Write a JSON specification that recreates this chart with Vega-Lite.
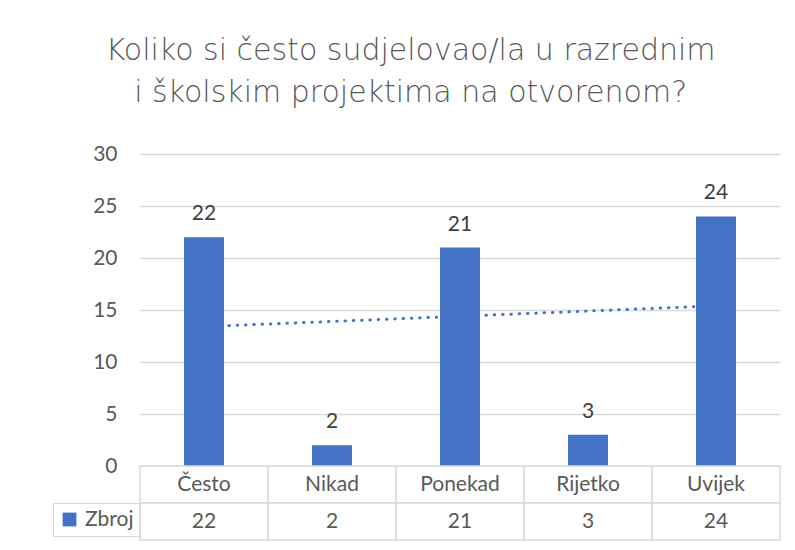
{
  "$schema": "https://vega.github.io/schema/vega-lite/v6.json",
  "background": "white",
  "padding": {"left": 52, "top": 36, "right": 12, "bottom": 5},
  "autosize": {"type": "pad"},
  "title": {
    "text": ["Koliko si često sudjelovao/la u razrednim", "i školskim projektima na otvorenom?"],
    "font": "DejaVu Sans",
    "fontSize": 30,
    "fontWeight": 200,
    "color": "#595959",
    "anchor": "middle",
    "dx": -6,
    "lineHeight": 42,
    "offset": 35
  },
  "datasets": {
    "odgovori": [
      {"kategorija": "Često", "zbroj": 22, "serija": "Zbroj"},
      {"kategorija": "Nikad", "zbroj": 2, "serija": "Zbroj"},
      {"kategorija": "Ponekad", "zbroj": 21, "serija": "Zbroj"},
      {"kategorija": "Rijetko", "zbroj": 3, "serija": "Zbroj"},
      {"kategorija": "Uvijek", "zbroj": 24, "serija": "Zbroj"}
    ],
    "trend": [
      {"kategorija": "Često", "trend": 13.4},
      {"kategorija": "Uvijek", "trend": 15.4}
    ]
  },
  "spacing": 0,
  "bounds": "flush",
  "resolve": {"legend": {"color": "independent"}, "scale": {"x": "independent"}},
  "vconcat": [
    {
      "width": 640,
      "height": 312,
      "layer": [
        {
          "data": {"name": "trend"},
          "mark": {"type": "line", "color": "#4472C4", "strokeWidth": 3, "strokeCap": "round", "strokeDash": [0.5, 7.8]},
          "encoding": {
            "x": {"field": "kategorija", "type": "nominal", "sort": null,
                  "scale": {"domain": ["Često", "Nikad", "Ponekad", "Rijetko", "Uvijek"], "paddingInner": 0.6875, "paddingOuter": 0.34375},
                  "axis": null},
            "y": {"field": "trend", "type": "quantitative"}
          }
        },
        {
          "data": {"name": "odgovori"},
          "mark": {"type": "bar", "color": "#4472C4"},
          "encoding": {
            "x": {"field": "kategorija", "type": "nominal", "sort": null, "axis": null},
            "y": {"field": "zbroj", "type": "quantitative",
                  "scale": {"domain": [0, 30]},
                  "axis": {"title": null, "values": [0, 5, 10, 15, 20, 25, 30], "grid": true, "gridColor": "#d9d9d9", "gridWidth": 1.5,
                           "domain": false, "ticks": false, "labelPadding": 23, "labelFont": "Lato", "labelFontSize": 21, "labelColor": "#595959"}}
          }
        },
        {
          "data": {"name": "odgovori"},
          "mark": {"type": "text", "font": "Lato", "fontSize": 21, "color": "#404040", "baseline": "alphabetic", "dy": -17},
          "encoding": {
            "x": {"field": "kategorija", "type": "nominal", "sort": null, "axis": null},
            "y": {"field": "zbroj", "type": "quantitative"},
            "text": {"field": "zbroj", "type": "quantitative"}
          }
        }
      ]
    },
    {
      "width": 640,
      "height": 37,
      "data": {"name": "odgovori"},
      "encoding": {
        "x": {"field": "kategorija", "type": "nominal", "sort": null,
              "scale": {"domain": ["Često", "Nikad", "Ponekad", "Rijetko", "Uvijek"], "paddingInner": 0, "paddingOuter": 0},
              "axis": null}
      },
      "layer": [
        {"mark": {"type": "rect", "fill": "white", "stroke": "#d9d9d9", "strokeWidth": 1.5}},
        {"mark": {"type": "text", "font": "Lato", "fontSize": 21, "color": "#595959", "baseline": "middle"},
         "encoding": {"text": {"field": "kategorija", "type": "nominal"}}}
      ]
    },
    {
      "width": 640,
      "height": 37,
      "data": {"name": "odgovori"},
      "encoding": {
        "x": {"field": "kategorija", "type": "nominal", "sort": null,
              "scale": {"domain": ["Često", "Nikad", "Ponekad", "Rijetko", "Uvijek"], "paddingInner": 0, "paddingOuter": 0},
              "axis": null}
      },
      "layer": [
        {"mark": {"type": "rect", "opacity": 0},
         "encoding": {"color": {"field": "serija", "type": "nominal",
                                "scale": {"range": ["#4472C4"]},
                                "legend": {"orient": "left", "offset": 0, "title": null, "symbolType": "square", "symbolSize": 190,
                                           "symbolOpacity": 1, "symbolStrokeWidth": 0,
                                           "labelFont": "Lato", "labelFontSize": 21, "labelColor": "#595959", "labelOffset": 5,
                                           "strokeColor": "#d9d9d9", "padding": 6}}}},
        {"mark": {"type": "rect", "fill": "white", "stroke": "#d9d9d9", "strokeWidth": 1.5}},
        {"mark": {"type": "text", "font": "Lato", "fontSize": 21, "color": "#595959", "baseline": "middle"},
         "encoding": {"text": {"field": "zbroj", "type": "quantitative"}}}
      ]
    }
  ],
  "config": {"view": {"stroke": null}}
}
